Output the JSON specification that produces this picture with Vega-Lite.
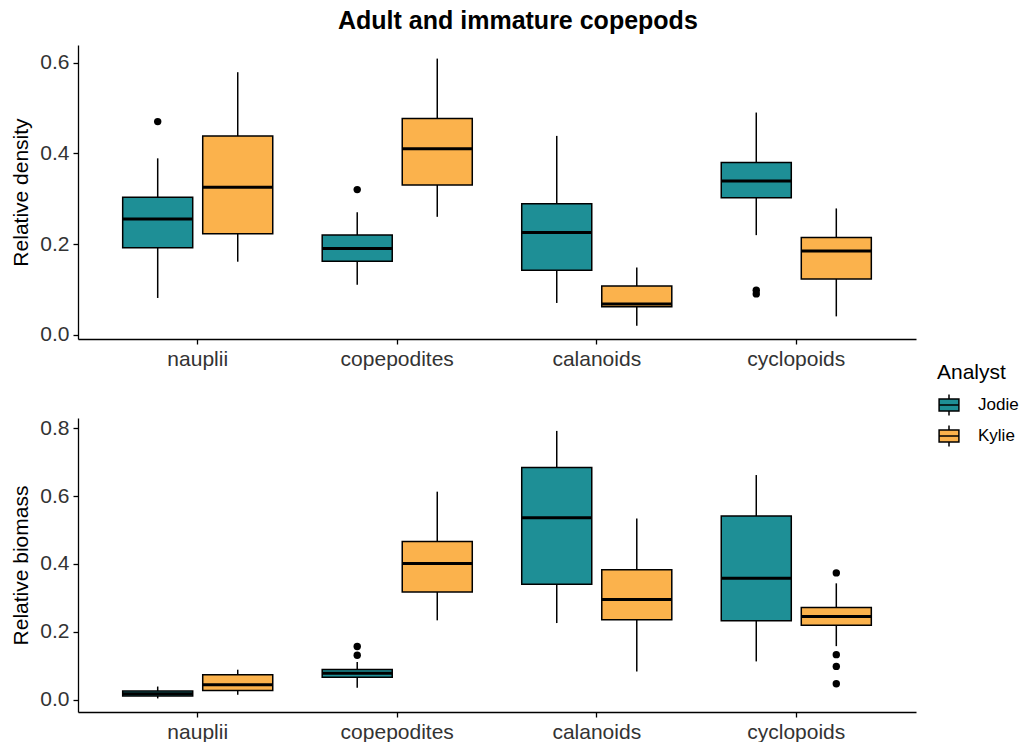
{
  "$schema": "https://vega.github.io/schema/vega-lite/v6.json",
  "background": "white",
  "padding": {"left": 10, "top": 9, "right": 5, "bottom": 5},
  "title": {
    "text": "Adult and immature copepods",
    "font": "Liberation Sans",
    "fontSize": 25,
    "fontWeight": "bold",
    "color": "black",
    "anchor": "middle",
    "dx": 3,
    "offset": 11
  },
  "datasets": {
    "stats": [
      {"panel": "density", "group": "nauplii", "analyst": "Jodie", "lo": 0.081, "q1": 0.192, "med": 0.255, "q3": 0.303, "hi": 0.389},
      {"panel": "density", "group": "nauplii", "analyst": "Kylie", "lo": 0.161, "q1": 0.2225, "med": 0.325, "q3": 0.438, "hi": 0.579},
      {"panel": "density", "group": "copepodites", "analyst": "Jodie", "lo": 0.110, "q1": 0.162, "med": 0.190, "q3": 0.220, "hi": 0.270},
      {"panel": "density", "group": "copepodites", "analyst": "Kylie", "lo": 0.260, "q1": 0.330, "med": 0.410, "q3": 0.477, "hi": 0.609},
      {"panel": "density", "group": "calanoids", "analyst": "Jodie", "lo": 0.070, "q1": 0.142, "med": 0.2255, "q3": 0.289, "hi": 0.4385},
      {"panel": "density", "group": "calanoids", "analyst": "Kylie", "lo": 0.020, "q1": 0.0617, "med": 0.0676, "q3": 0.1072, "hi": 0.1483},
      {"panel": "density", "group": "cyclopoids", "analyst": "Jodie", "lo": 0.2196, "q1": 0.302, "med": 0.339, "q3": 0.3797, "hi": 0.490},
      {"panel": "density", "group": "cyclopoids", "analyst": "Kylie", "lo": 0.0404, "q1": 0.1227, "med": 0.1844, "q3": 0.2145, "hi": 0.2785},
      {"panel": "biomass", "group": "nauplii", "analyst": "Jodie", "lo": 0.004, "q1": 0.011, "med": 0.018, "q3": 0.026, "hi": 0.039},
      {"panel": "biomass", "group": "nauplii", "analyst": "Kylie", "lo": 0.0148, "q1": 0.0275, "med": 0.0443, "q3": 0.0738, "hi": 0.0886},
      {"panel": "biomass", "group": "copepodites", "analyst": "Jodie", "lo": 0.0354, "q1": 0.0667, "med": 0.0785, "q3": 0.0894, "hi": 0.111},
      {"panel": "biomass", "group": "copepodites", "analyst": "Kylie", "lo": 0.234, "q1": 0.3177, "med": 0.4015, "q3": 0.466, "hi": 0.613},
      {"panel": "biomass", "group": "calanoids", "analyst": "Jodie", "lo": 0.226, "q1": 0.340, "med": 0.536, "q3": 0.684, "hi": 0.792},
      {"panel": "biomass", "group": "calanoids", "analyst": "Kylie", "lo": 0.0835, "q1": 0.236, "med": 0.2952, "q3": 0.3827, "hi": 0.534},
      {"panel": "biomass", "group": "cyclopoids", "analyst": "Jodie", "lo": 0.113, "q1": 0.233, "med": 0.358, "q3": 0.541, "hi": 0.662},
      {"panel": "biomass", "group": "cyclopoids", "analyst": "Kylie", "lo": 0.158, "q1": 0.2193, "med": 0.245, "q3": 0.2716, "hi": 0.343}
    ],
    "outliers": [
      {"panel": "density", "group": "nauplii", "analyst": "Jodie", "value": 0.470},
      {"panel": "density", "group": "copepodites", "analyst": "Jodie", "value": 0.320},
      {"panel": "density", "group": "cyclopoids", "analyst": "Jodie", "value": 0.098},
      {"panel": "density", "group": "cyclopoids", "analyst": "Jodie", "value": 0.090},
      {"panel": "biomass", "group": "copepodites", "analyst": "Jodie", "value": 0.157},
      {"panel": "biomass", "group": "copepodites", "analyst": "Jodie", "value": 0.131},
      {"panel": "biomass", "group": "cyclopoids", "analyst": "Kylie", "value": 0.3737},
      {"panel": "biomass", "group": "cyclopoids", "analyst": "Kylie", "value": 0.133},
      {"panel": "biomass", "group": "cyclopoids", "analyst": "Kylie", "value": 0.0983},
      {"panel": "biomass", "group": "cyclopoids", "analyst": "Kylie", "value": 0.047}
    ]
  },
  "spacing": 48,
  "resolve": {"scale": {"fill": "shared"}},
  "vconcat": [
    {
      "width": 838,
      "height": 294,
      "encoding": {
        "x": {
          "field": "group", "type": "nominal",
          "sort": ["nauplii", "copepodites", "calanoids", "cyclopoids"],
          "scale": {"paddingInner": 0, "paddingOuter": 0.1},
          "axis": {"title": null, "labelAngle": 0}
        },
        "xOffset": {
          "field": "analyst", "type": "nominal",
          "sort": ["Jodie", "Kylie"],
          "scale": {"paddingInner": 0.125, "paddingOuter": 0.309}
        }
      },
      "layer": [
        {
          "data": {"name": "stats"},
          "transform": [{"filter": "datum.panel === 'density'"}],
          "mark": {"type": "rule", "color": "black", "strokeWidth": 1.5},
          "encoding": {
            "y": {
              "field": "lo", "type": "quantitative", "title": "Relative density",
              "scale": {"domain": [-0.0095, 0.639], "nice": false, "zero": false},
              "axis": {"values": [0, 0.2, 0.4, 0.6], "format": ".1f"}
            },
            "y2": {"field": "hi"}
          }
        },
        {
          "data": {"name": "stats"},
          "transform": [{"filter": "datum.panel === 'density'"}],
          "mark": {"type": "bar", "stroke": "black", "strokeWidth": 1.5, "opacity": 1},
          "encoding": {
            "y": {"field": "q1", "type": "quantitative", "title": "Relative density"},
            "y2": {"field": "q3"},
            "fill": {
              "field": "analyst", "type": "nominal", "title": "Analyst",
              "scale": {"domain": ["Jodie", "Kylie"], "range": ["#1E8F96", "#FBB24C"]}
            }
          }
        },
        {
          "data": {"name": "stats"},
          "transform": [{"filter": "datum.panel === 'density'"}],
          "mark": {"type": "tick", "color": "black", "thickness": 3, "size": 70, "opacity": 1},
          "encoding": {
            "y": {"field": "med", "type": "quantitative", "title": "Relative density"}
          }
        },
        {
          "data": {"name": "outliers"},
          "transform": [{"filter": "datum.panel === 'density'"}],
          "mark": {"type": "circle", "color": "black", "size": 55, "opacity": 1},
          "encoding": {
            "y": {"field": "value", "type": "quantitative", "title": "Relative density"}
          }
        }
      ]
    },
    {
      "width": 838,
      "height": 294,
      "encoding": {
        "x": {
          "field": "group", "type": "nominal",
          "sort": ["nauplii", "copepodites", "calanoids", "cyclopoids"],
          "scale": {"paddingInner": 0, "paddingOuter": 0.1},
          "axis": {"title": null, "labelAngle": 0}
        },
        "xOffset": {
          "field": "analyst", "type": "nominal",
          "sort": ["Jodie", "Kylie"],
          "scale": {"paddingInner": 0.125, "paddingOuter": 0.309}
        }
      },
      "layer": [
        {
          "data": {"name": "stats"},
          "transform": [{"filter": "datum.panel === 'biomass'"}],
          "mark": {"type": "rule", "color": "black", "strokeWidth": 1.5},
          "encoding": {
            "y": {
              "field": "lo", "type": "quantitative", "title": "Relative biomass",
              "scale": {"domain": [-0.036, 0.83], "nice": false, "zero": false},
              "axis": {"values": [0, 0.2, 0.4, 0.6, 0.8], "format": ".1f"}
            },
            "y2": {"field": "hi"}
          }
        },
        {
          "data": {"name": "stats"},
          "transform": [{"filter": "datum.panel === 'biomass'"}],
          "mark": {"type": "bar", "stroke": "black", "strokeWidth": 1.5, "opacity": 1},
          "encoding": {
            "y": {"field": "q1", "type": "quantitative", "title": "Relative biomass"},
            "y2": {"field": "q3"},
            "fill": {
              "field": "analyst", "type": "nominal", "title": "Analyst",
              "scale": {"domain": ["Jodie", "Kylie"], "range": ["#1E8F96", "#FBB24C"]}
            }
          }
        },
        {
          "data": {"name": "stats"},
          "transform": [{"filter": "datum.panel === 'biomass'"}],
          "mark": {"type": "tick", "color": "black", "thickness": 3, "size": 70, "opacity": 1},
          "encoding": {
            "y": {"field": "med", "type": "quantitative", "title": "Relative biomass"}
          }
        },
        {
          "data": {"name": "outliers"},
          "transform": [{"filter": "datum.panel === 'biomass'"}],
          "mark": {"type": "circle", "color": "black", "size": 55, "opacity": 1},
          "encoding": {
            "y": {"field": "value", "type": "quantitative", "title": "Relative biomass"}
          }
        }
      ]
    }
  ],
  "config": {
    "view": {"stroke": null},
    "font": "Liberation Sans",
    "axis": {
      "grid": false,
      "domainColor": "black",
      "domainWidth": 1.3,
      "tickColor": "black",
      "tickWidth": 1.3,
      "tickSize": 5,
      "labelFont": "Liberation Sans",
      "labelFontSize": 21,
      "labelColor": "#333333",
      "labelPadding": 4,
      "titleFont": "Liberation Sans",
      "titleFontSize": 21,
      "titleFontWeight": "normal",
      "titleColor": "black"
    },
    "axisY": {"titlePadding": 8},
    "legend": {
      "orient": "none",
      "legendX": 859,
      "legendY": 317,
      "titleFont": "Liberation Sans",
      "titleFontSize": 21,
      "titleFontWeight": "normal",
      "titleColor": "black",
      "titlePadding": 10,
      "labelFont": "Liberation Sans",
      "labelFontSize": 17,
      "labelColor": "black",
      "labelOffset": 17,
      "symbolType": "M-0.9,-0.55H0.9V0.55H-0.9Z M-0.9,0H0.9 M0,-0.55V-0.95 M0,0.55V0.95",
      "symbolSize": 484,
      "symbolStrokeColor": "black",
      "symbolStrokeWidth": 1.5,
      "symbolOpacity": 1,
      "rowPadding": 3
    }
  }
}
